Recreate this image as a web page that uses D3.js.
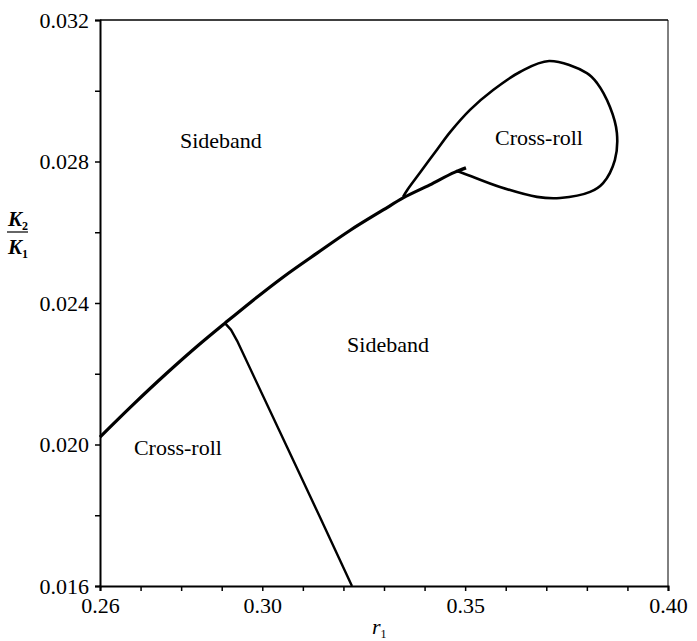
<!DOCTYPE html>
<html>
<head>
<meta charset="utf-8">
<script src="https://d3js.org/d3.v7.min.js"></script>
<style>
  body { margin: 0; background: #fff; }
  svg { font-family: "Liberation Serif", "DejaVu Serif", serif; }
</style>
</head>
<body>
<svg width="697" height="641"></svg>
<script>
// boundary curves as [r1, K2/K1]
var mainCurve = [
  [0.2600, 0.02021], [0.2681, 0.02112], [0.2765, 0.02202], [0.2846, 0.02284],
  [0.2908, 0.02343], [0.2970, 0.02401], [0.3051, 0.02473], [0.3135, 0.02541],
  [0.3216, 0.02605], [0.3298, 0.02663], [0.3347, 0.02697], [0.3413, 0.02734],
  [0.3475, 0.02770], [0.3502, 0.02782]
];
var loopCurve = [
  [0.3347, 0.02700], [0.3357, 0.02719], [0.3389, 0.02769], [0.3431, 0.02834],
  [0.3463, 0.02883], [0.3512, 0.02946], [0.3569, 0.03002], [0.3635, 0.03053],
  [0.3707, 0.03084], [0.3800, 0.03050], [0.3825, 0.03022], [0.3857, 0.02954],
  [0.3874, 0.02881], [0.3869, 0.02804], [0.3840, 0.02739], [0.3808, 0.02714],
  [0.3734, 0.02697], [0.3677, 0.02700], [0.3586, 0.02728], [0.3495, 0.02767],
  [0.3478, 0.02773]
];
var crossCurve = [
  [0.2908, 0.02343], [0.2923, 0.02324], [0.2938, 0.02293],
  [0.3061, 0.01993], [0.3142, 0.01795], [0.3221, 0.01600]
];
var regionLabels = [
  { text: "Sideband", r: 0.2898, k: 0.02838 },
  { text: "Sideband", r: 0.3310, k: 0.02261 },
  { text: "Cross-roll", r: 0.3682, k: 0.02847 },
  { text: "Cross-roll", r: 0.2792, k: 0.01970 }
];
var xMajor = [0.26, 0.30, 0.35, 0.40];
var yMajor = [0.016, 0.020, 0.024, 0.028, 0.032];

var svg = d3.select("svg");
var mLeft = 100, mRight = 668, mTop = 20, mBottom = 586;

var x = d3.scaleLinear().domain([0.26, 0.40]).range([mLeft, mRight]);
var y = d3.scaleLinear().domain([0.016, 0.032]).range([mBottom, mTop]);

// frame: top and right thin
svg.append("line").attr("x1", mLeft).attr("x2", mRight).attr("y1", mTop).attr("y2", mTop)
  .attr("stroke", "#000").attr("stroke-width", 1.6);
svg.append("line").attr("x1", mRight).attr("x2", mRight).attr("y1", mTop).attr("y2", mBottom)
  .attr("stroke", "#000").attr("stroke-width", 1);

// bottom axis
var xAxis = d3.axisBottom(x)
  .tickValues(d3.range(26, 41).map(function(d) { return d / 100; }))
  .tickSize(5)
  .tickFormat(function(d) {
    return xMajor.some(function(m) { return Math.abs(m - d) < 1e-9; }) ? d3.format(".2f")(d) : "";
  });
var gx = svg.append("g").attr("transform", "translate(0," + mBottom + ")").call(xAxis)
  .attr("font-family", "Liberation Serif");
gx.select(".domain").attr("stroke-width", 2);
gx.selectAll(".tick line").attr("stroke-width", 1.5);
gx.selectAll("text").attr("font-size", 22).attr("dy", "0.85em");

// left axis
var yAxis = d3.axisLeft(y)
  .tickValues(d3.range(16, 33, 2).map(function(d) { return d / 1000; }))
  .tickSize(5)
  .tickFormat(function(d) {
    return yMajor.some(function(m) { return Math.abs(m - d) < 1e-9; }) ? d3.format(".3f")(d) : "";
  });
var gy = svg.append("g").attr("transform", "translate(" + mLeft + ",0)").call(yAxis)
  .attr("font-family", "Liberation Serif");
gy.select(".domain").attr("stroke-width", 2);
gy.selectAll(".tick line").attr("stroke-width", 1.5);
gy.selectAll("text").attr("font-size", 22).attr("x", -11);

// curves
var smooth = d3.line()
  .x(function(d) { return x(d[0]); })
  .y(function(d) { return y(d[1]); });

svg.append("path").datum(mainCurve).attr("d", smooth.curve(d3.curveMonotoneX))
  .attr("fill", "none").attr("stroke", "#000").attr("stroke-width", 3.2);
svg.append("path").datum(loopCurve).attr("d", smooth.curve(d3.curveCatmullRom.alpha(0.5)))
  .attr("fill", "none").attr("stroke", "#000").attr("stroke-width", 2.6);
svg.append("path").datum(crossCurve).attr("d", smooth.curve(d3.curveLinear))
  .attr("fill", "none").attr("stroke", "#000").attr("stroke-width", 2.4)
  .attr("stroke-linejoin", "round");

// region labels
svg.selectAll("text.region").data(regionLabels).enter().append("text")
  .attr("class", "region")
  .attr("x", function(d) { return x(d.r); })
  .attr("y", function(d) { return y(d.k); })
  .attr("text-anchor", "middle")
  .attr("font-size", 22)
  .text(function(d) { return d.text; });

// x axis title r1
var xt = svg.append("text").attr("x", 372).attr("y", 634)
  .attr("font-size", 22).attr("font-style", "italic");
xt.append("tspan").text("r");
xt.append("tspan").attr("font-size", 12).attr("dy", 4).attr("font-style", "normal").text("1");

// y axis title K2/K1
var yt = svg.append("g").attr("font-size", 21).attr("font-style", "italic").attr("font-weight", "bold");
var t1 = yt.append("text").attr("x", 8).attr("y", 226);
t1.append("tspan").text("K");
t1.append("tspan").attr("font-size", 12).attr("dy", 4).attr("font-style", "normal").text("2");
svg.append("line").attr("x1", 7).attr("x2", 28).attr("y1", 232).attr("y2", 232)
  .attr("stroke", "#000").attr("stroke-width", 1.2);
var t2 = yt.append("text").attr("x", 8).attr("y", 254);
t2.append("tspan").text("K");
t2.append("tspan").attr("font-size", 12).attr("dy", 4).attr("font-style", "normal").text("1");
</script>
</body>
</html>
